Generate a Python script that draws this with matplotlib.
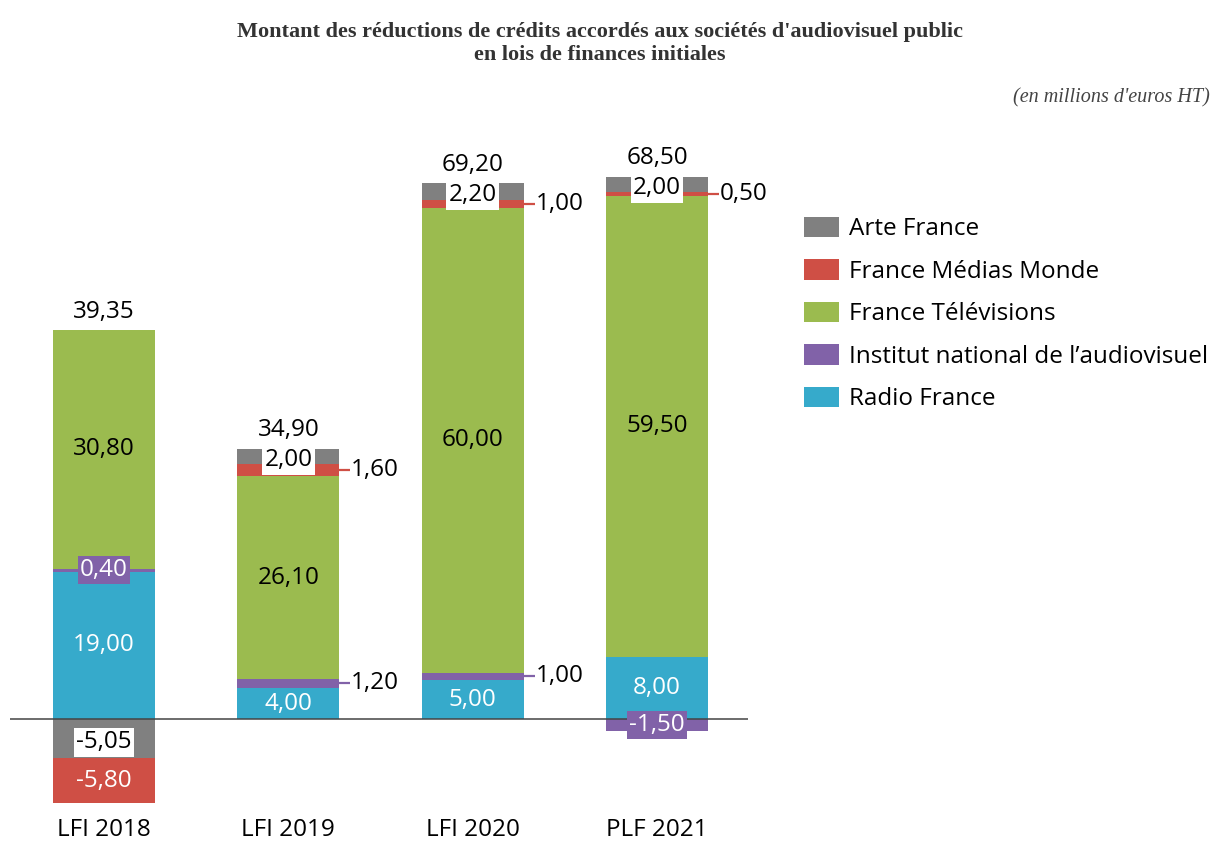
import numpy as np
import matplotlib.pyplot as plt
from matplotlib.patches import Patch

# Données (millions d'euros HT)
categories = ["LFI 2018", "LFI 2019", "LFI 2020", "PLF 2021"]
series_names = ["Arte France", "France Médias Monde", "France Télévisions",
                "Institut national de l\u2019audiovisuel", "Radio France"]
arte = [-5.05, 2.00, 2.20, 2.00]
fmm = [-5.80, 1.60, 1.00, 0.50]
ftv = [30.80, 26.10, 60.00, 59.50]
ina = [0.40, 1.20, 1.00, -1.50]
radio = [19.00, 4.00, 5.00, 8.00]
totals = [39.35, 34.90, 69.20, 68.50]

colors = {
    "Arte France": "#808080",
    "France Médias Monde": "#cf4f45",
    "France Télévisions": "#9bbb4f",
    "Institut national de l\u2019audiovisuel": "#8162a8",
    "Radio France": "#36aacb",
}

FONT = "Open Sans"
FS = 17.5


def fmt(v):
    return f"{v:.2f}".replace(".", ",")


fig = plt.figure(figsize=(12.17, 8.44), dpi=100)
W, H = 1217, 844
# axes placed in pixel coordinates
ax = fig.add_axes([10 / W, 34 / H, 738 / W, 660 / H])
ax.set_xlim(-0.51, 3.494)
ax.set_ylim(-11.74, 73.42)
for s in ax.spines.values():
    s.set_visible(False)
ax.set_yticks([])

x = np.arange(len(categories))
width = 0.553

# positive stack: bottom -> top ; negative stack: axis -> down
pos_order = [("Radio France", radio), ("Institut national de l\u2019audiovisuel", ina),
             ("France Télévisions", ftv), ("France Médias Monde", fmm),
             ("Arte France", arte)]
neg_order = [("Arte France", arte), ("France Médias Monde", fmm),
             ("France Télévisions", ftv), ("Institut national de l\u2019audiovisuel", ina),
             ("Radio France", radio)]

pos_bottom = np.zeros(len(categories))
neg_bottom = np.zeros(len(categories))
segments = {}  # (name, i) -> (bottom, top)
for name, vals in pos_order:
    vals = np.array(vals)
    v = np.where(vals > 0, vals, 0)
    ax.bar(x, v, width, bottom=pos_bottom, color=colors[name], linewidth=0)
    for i in range(len(x)):
        if vals[i] > 0:
            segments[(name, i)] = (pos_bottom[i], pos_bottom[i] + vals[i])
    pos_bottom += v
for name, vals in neg_order:
    vals = np.array(vals)
    v = np.where(vals < 0, vals, 0)
    ax.bar(x, v, width, bottom=neg_bottom, color=colors[name], linewidth=0)
    for i in range(len(x)):
        if vals[i] < 0:
            segments[(name, i)] = (neg_bottom[i], neg_bottom[i] + vals[i])
    neg_bottom += v

ax.axhline(0, color="#444444", linewidth=1.1, zorder=3)

all_vals = {"Arte France": arte, "France Médias Monde": fmm, "France Télévisions": ftv,
            "Institut national de l\u2019audiovisuel": ina, "Radio France": radio}

# how each segment label is drawn
white_box = dict(boxstyle="square,pad=0.1", fc="white", ec="none")
for (name, i), (b, t) in segments.items():
    val = all_vals[name][i]
    yc = (b + t) / 2
    if abs(val) < 1.7:
        if name == "Institut national de l\u2019audiovisuel" and i in (0, 3):
            ax.text(x[i], yc, fmt(val), ha="center", va="center", color="white",
                    fontsize=FS, family=FONT, zorder=5,
                    bbox=dict(boxstyle="square,pad=0.08", fc=colors[name], ec="none"))
        else:
            xr = x[i] + width / 2
            ax.plot([xr - 0.05, xr + 0.06], [yc, yc], color=colors[name], lw=1.6,
                    zorder=4, solid_capstyle="butt")
            ax.text(xr + 0.065, yc, fmt(val), ha="left", va="center", color="black",
                    fontsize=FS, family=FONT, zorder=5)
    elif name == "Arte France":
        ax.text(x[i], yc - 0.5, fmt(val), ha="center", va="center", color="black",
                fontsize=FS, family=FONT, zorder=5, bbox=white_box)
    elif name == "France Télévisions":
        ax.text(x[i], yc, fmt(val), ha="center", va="center", color="black",
                fontsize=FS, family=FONT, zorder=5)
    else:
        ax.text(x[i], yc, fmt(val), ha="center", va="center", color="white",
                fontsize=FS, family=FONT, zorder=5)

for i, tot in enumerate(totals):
    ax.text(x[i], pos_bottom[i] + 0.8, fmt(tot), ha="center", va="bottom",
            color="black", fontsize=FS, family=FONT)

ax.set_xticks(x)
ax.set_xticklabels(categories, fontsize=FS, family=FONT)
ax.tick_params(axis="x", length=0, pad=6)

handles = [Patch(color=colors[n], linewidth=0) for n in series_names]
fig.legend(handles, series_names, loc="upper left",
           bbox_to_anchor=(804 / W, (H - 217) / H), frameon=False,
           prop={"family": FONT, "size": FS}, handlelength=1.45, handleheight=0.9,
           handletextpad=0.4, labelspacing=0.74, borderpad=0, borderaxespad=0)

fig.text(600 / W, 1 - 32 / H,
         "Montant des réductions de crédits accordés aux sociétés d'audiovisuel public",
         ha="center", va="center", family="Liberation Serif", fontweight="bold",
         fontsize=16, color="#333333")
fig.text(600 / W, 1 - 55 / H, "en lois de finances initiales",
         ha="center", va="center", family="Liberation Serif", fontweight="bold",
         fontsize=16, color="#333333")
fig.text(1210 / W, 1 - 98 / H, "(en millions d'euros HT)", ha="right", va="center",
         family="Liberation Serif", style="italic", fontsize=14.5, color="#444444")

fig.savefig("out.png", dpi=100)
